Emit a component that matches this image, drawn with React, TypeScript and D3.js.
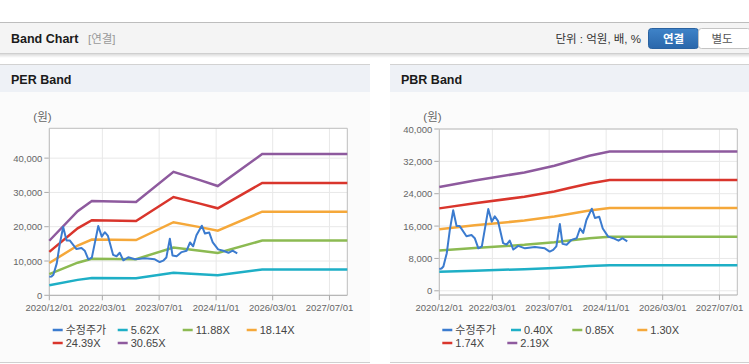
import React from "react";
import * as d3 from "d3";

// tick labels on the date axis
const X_TICKS = ["2020/12/01", "2022/03/01", "2023/07/01", "2024/11/01", "2026/03/01", "2027/07/01"];

// adjusted share price (수정주가), shared by both charts
const PRICE_DATES = [
  "2020/12/01", "2020/12/20", "2021/01/05", "2021/02/03", "2021/03/01", "2021/03/30",
  "2021/04/28", "2021/05/25", "2021/07/22", "2021/09/03", "2021/10/01", "2021/11/01",
  "2021/12/01", "2021/12/28", "2022/01/25", "2022/02/24", "2022/03/22", "2022/04/18",
  "2022/06/01", "2022/07/01", "2022/07/28", "2022/08/28", "2022/10/09", "2022/12/06",
  "2023/03/01", "2023/05/25", "2023/07/06", "2023/08/05", "2023/09/01", "2023/10/01",
  "2023/10/24", "2023/11/28", "2024/01/10", "2024/02/22", "2024/03/22", "2024/04/18",
  "2024/05/16", "2024/07/01", "2024/07/28", "2024/09/03", "2024/10/03", "2024/11/18",
  "2025/01/01", "2025/02/15", "2025/03/22", "2025/05/01",
];
const PRICE = [
  5400, 5500, 6000, 9300, 15000, 19900,
  16000, 16000, 13500, 13800, 13000, 10500,
  11000, 15500, 20200, 17100, 18400, 17300,
  11800, 11400, 12400, 10200, 11100, 10500,
  10800, 10500, 9700, 10100, 11000, 16500,
  11600, 11400, 12600, 13000, 15400, 14300,
  17500, 20300, 18000, 18300, 15400, 13400,
  13000, 12400, 13000, 12200,
];

// PER band lines
const PER_DATES = ["2020/12/01", "2021/08/01", "2021/12/01", "2022/12/15", "2023/11/01", "2024/06/15", "2024/11/15", "2025/12/01", "2027/12/01"];
const PER_562 = [2917, 4496, 5041, 4991, 6604, 6160, 5845, 7553, 7553];
const PER_1188 = [6166, 9504, 10656, 10549, 13959, 13020, 12355, 15967, 15967];
const PER_1814 = [9415, 14512, 16272, 16108, 21315, 19881, 18866, 24380, 24380];
const PER_2439 = [12658, 19512, 21878, 21658, 28658, 26731, 25366, 32780, 32780];
const PER_3065 = [15907, 24520, 27493, 27217, 36014, 33592, 31876, 41194, 41194];
const PER_LABELS = ["수정주가", "5.62X", "11.88X", "18.14X", "24.39X", "30.65X"];
const PER_Y_TICKS = [0, 10000, 20000, 30000, 40000];

// PBR band lines
const PBR_DATES = ["2020/12/01", "2021/10/01", "2022/12/01", "2023/08/15", "2023/12/20", "2024/06/10", "2024/12/01", "2027/12/01"];
const PBR_040 = [4684, 4980, 5344, 5644, 5840, 6100, 6292, 6292];
const PBR_085 = [9954, 10583, 11356, 11994, 12410, 12963, 13371, 13371];
const PBR_130 = [15223, 16185, 17368, 18343, 18980, 19825, 20449, 20449];
const PBR_174 = [20375, 21663, 23246, 24551, 25404, 26535, 27370, 27370];
const PBR_219 = [25645, 27266, 29258, 30901, 31974, 33398, 34449, 34449];
const PBR_LABELS = ["수정주가", "0.40X", "0.85X", "1.30X", "1.74X", "2.19X"];
const PBR_Y_TICKS = [0, 8000, 16000, 24000, 32000, 40000];

const COLORS = ["#3b7bcf", "#1eafc6", "#8cba52", "#f5a83a", "#d9352c", "#8e5a9e"];

const parse = d3.timeParse("%Y/%m/%d");
const FONT = "'Liberation Sans', Arial, sans-serif";
const KFONT = "'Liberation Sans', 'Noto Sans CJK KR', sans-serif";

type Pt = { d: Date; v: number };

function toPts(dates: string[], vals: number[]): Pt[] {
  return dates.map((s, i) => ({ d: parse(s) as Date, v: vals[i] }));
}

interface PanelProps {
  px: number;
  width: number;
  title: string;
  plot: { l: number; r: number; t: number; b: number };
  yDomain: [number, number];
  yTicks: number[];
  bandDates: string[];
  bands: number[][];
  labels: string[];
  legendX: number[][];
}

function BandPanel(p: PanelProps) {
  const { plot } = p;
  const x = d3.scaleTime()
    .domain([parse("2020/12/01") as Date, parse("2027/12/01") as Date])
    .range([plot.l, plot.r]);
  const y = d3.scaleLinear().domain(p.yDomain).range([plot.b, plot.t]);
  const line = d3.line<Pt>().x((d) => x(d.d)).y((d) => y(d.v));
  const fmt = d3.format(",");
  const series = [toPts(PRICE_DATES, PRICE), ...p.bands.map((b) => toPts(p.bandDates, b))];

  return (
    <g>
      {/* panel frame */}
      <rect x={p.px} y={64} width={p.width} height={298} fill="#fbfbfb" />
      <rect x={p.px} y={64} width={p.width} height={28} fill="#eef1f6" />
      <line x1={p.px} x2={p.px + p.width} y1={64.5} y2={64.5} stroke="#d2d2d2" />
      <line x1={p.px} x2={p.px + p.width} y1={362.5} y2={362.5} stroke="#d0d0d0" />
      <text x={p.px + 11} y={84} fontFamily={FONT} fontWeight="bold" fontSize={12.5} fill="#1a1a1a">{p.title}</text>

      {/* plot */}
      <rect x={plot.l} y={plot.t} width={plot.r - plot.l} height={plot.b - plot.t} fill="#fff" />
      {p.yTicks.map((t) => (
        <g key={t}>
          <line x1={plot.l} x2={plot.r} y1={y(t)} y2={y(t)} stroke="#e8e8e8" />
          <line x1={plot.l - 5} x2={plot.l} y1={y(t)} y2={y(t)} stroke="#aaa" />
          <text x={plot.l - 7} y={y(t) + 3.5} textAnchor="end" fontFamily={FONT} fontSize={9.5} fill="#666">{fmt(t)}</text>
        </g>
      ))}
      {X_TICKS.map((s) => {
        const xx = x(parse(s) as Date);
        return (
          <g key={s}>
            <line x1={xx} x2={xx} y1={plot.t} y2={plot.b} stroke="#e8e8e8" />
            <line x1={xx} x2={xx} y1={plot.b} y2={plot.b + 5} stroke="#aaa" />
            <text x={xx} y={plot.b + 16} textAnchor="middle" fontFamily={FONT} fontSize={9.5} fill="#666">{s}</text>
          </g>
        );
      })}
      <path d={`M${plot.l},${plot.b}V${plot.t}H${plot.r}V${plot.b}`} fill="none" stroke="#bdbdbd" />
      <line x1={plot.l} x2={plot.r} y1={plot.b} y2={plot.b} stroke="#aaa" />
      <text x={plot.l - 16} y={121} fontFamily={KFONT} fontSize={11.5} fill="#666">(원)</text>

      {series.slice(1).map((s, i) => (
        <path key={i} d={line(s) || ""} fill="none" stroke={COLORS[i + 1]} strokeWidth={2.5} />
      ))}
      <path d={line(series[0]) || ""} fill="none" stroke={COLORS[0]} strokeWidth={2} strokeLinejoin="round" />

      {/* legend */}
      {p.labels.map((lab, i) => {
        const row = i < 4 ? 0 : 1;
        const lx = p.px + p.legendX[row][row === 0 ? i : i - 4];
        const ly = row === 0 ? 330 : 343;
        return (
          <g key={lab}>
            <line x1={lx} x2={lx + 10} y1={ly} y2={ly} stroke={COLORS[i]} strokeWidth={2.5} />
            <text x={lx + 13} y={ly + 4} fontFamily={KFONT} fontSize={11} fill="#444">{lab}</text>
          </g>
        );
      })}
    </g>
  );
}

export default function App() {
  return (
    <div>
      <style>{`body{margin:0;background:#fff}`}</style>
      <svg width={749} height={364} style={{ display: "block" }}>
        <defs>
          <linearGradient id="shadow" x1="0" y1="0" x2="0" y2="1">
            <stop offset="0" stopColor="#000" stopOpacity={0.14} />
            <stop offset="1" stopColor="#000" stopOpacity={0} />
          </linearGradient>
          <linearGradient id="btn" x1="0" y1="0" x2="0" y2="1">
            <stop offset="0" stopColor="#3f83c8" />
            <stop offset="1" stopColor="#2a67ab" />
          </linearGradient>
        </defs>
        <rect x={0} y={0} width={749} height={364} fill="#fff" />

        {/* header bar */}
        <rect x={0} y={22} width={749} height={31} fill="#f4f4f4" />
        <line x1={0} x2={749} y1={22.5} y2={22.5} stroke="#bdbdbd" />
        <line x1={0} x2={749} y1={53.5} y2={53.5} stroke="#cfcfcf" />
        <rect x={0} y={54} width={749} height={4} fill="url(#shadow)" />
        <text x={11} y={43} fontFamily={FONT} fontWeight="bold" fontSize={12.5} fill="#1a1a1a">Band Chart</text>
        <text x={88} y={43} fontFamily={KFONT} fontSize={11.5} fill="#999">[연결]</text>
        <text x={641} y={43} textAnchor="end" fontFamily={KFONT} fontSize={11.5} fill="#333">단위 : 억원, 배, %</text>
        <rect x={648.5} y={28.5} width={50} height={20} rx={3} fill="url(#btn)" stroke="#2a62a0" />
        <rect x={698.5} y={28.5} width={52} height={20} rx={3} fill="#fff" stroke="#c4c4c4" />
        <text x={673.5} y={43} textAnchor="middle" fontFamily={KFONT} fontWeight="bold" fontSize={11.5} fill="#fff">연결</text>
        <text x={722} y={43} textAnchor="middle" fontFamily={KFONT} fontSize={11.5} fill="#555">별도</text>

        <BandPanel
          px={0}
          width={370}
          title="PER Band"
          plot={{ l: 49.3, r: 347.3, t: 128.3, b: 295.3 }}
          yDomain={[0, 48700]}
          yTicks={PER_Y_TICKS}
          bandDates={PER_DATES}
          bands={[PER_562, PER_1188, PER_1814, PER_2439, PER_3065]}
          labels={PER_LABELS}
          legendX={[[52.7, 117.7, 182.7, 246.7], [52.7, 117.7]]}
        />
        <BandPanel
          px={390}
          width={359}
          title="PBR Band"
          plot={{ l: 439.3, r: 737.3, t: 129, b: 295 }}
          yDomain={[-1040, 40000]}
          yTicks={PBR_Y_TICKS}
          bandDates={PBR_DATES}
          bands={[PBR_040, PBR_085, PBR_130, PBR_174, PBR_219]}
          labels={PBR_LABELS}
          legendX={[[52.3, 121, 182.3, 247.3], [52.3, 117.3]]}
        />
      </svg>
    </div>
  );
}
